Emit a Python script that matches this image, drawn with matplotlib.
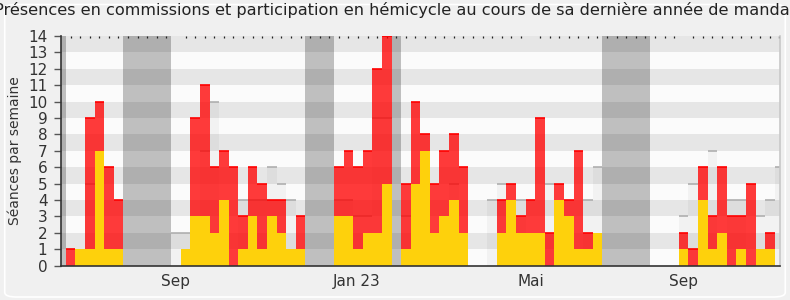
import matplotlib
matplotlib.use('Agg')
import matplotlib.pyplot as plt
from matplotlib.patches import FancyBboxPatch
from matplotlib.ticker import FixedLocator
import numpy as np

# semaines (index), valeurs
semaines = np.arange(75)

# participation en hémicycle (jaune)
hemicycle = [0, 1, 1, 7, 1, 1, 0, 0, 0, 0,
             0, 0, 1, 3, 3, 2, 4, 0, 1, 3,
             1, 3, 2, 1, 1, 0, 0, 0, 3, 3,
             1, 2, 2, 5, 0, 1, 5, 7, 2, 3,
             4, 2, 0, 0, 0, 2, 4, 2, 2, 2,
             0, 4, 3, 1, 1, 2, 0, 0, 0, 0,
             0, 0, 0, 0, 1, 0, 4, 1, 2, 0,
             1, 0, 1, 1, 0]

# présences en commission (rouge), empilées sur l'hémicycle
commission = [1, 0, 8, 3, 5, 3, 0, 0, 0, 0,
              0, 0, 0, 6, 8, 4, 3, 6, 2, 3,
              4, 1, 2, 0, 2, 0, 0, 0, 3, 4,
              5, 5, 10, 9, 0, 4, 5, 1, 3, 4,
              4, 4, 0, 0, 0, 2, 1, 1, 2, 7,
              2, 1, 1, 6, 1, 0, 0, 0, 0, 0,
              0, 0, 0, 0, 1, 1, 2, 2, 4, 3,
              2, 5, 0, 1, 0]

# médiane des députés (barres grises claires)
mediane = [0, 0, 5, 5, 0, 0, 0, 0, 0, 0,
           0, 2, 2, 0, 7, 10, 0, 0, 4, 4,
           4, 6, 5, 4, 0, 0, 0, 0, 4, 4,
           3, 3, 9, 9, 0, 3, 0, 0, 0, 0,
           5, 0, 0, 0, 4, 5, 0, 4, 0, 0,
           5, 0, 0, 0, 4, 6, 0, 0, 0, 0,
           0, 0, 0, 0, 3, 5, 0, 7, 0, 4,
           4, 0, 3, 4, 6]

# semaines de vacances parlementaires
vacances = [-1, 6, 7, 8, 9, 10, 25, 26, 27, 34, 56, 57, 58, 59, 60]

# étiquettes des mois
mois_pos = [11.5, 30.4, 48.5, 64.5]
mois_labels = ['Sep', 'Jan 23', 'Mai', 'Sep']

hemicycle = np.array(hemicycle)
commission = np.array(commission)
mediane = np.array(mediane)
total = hemicycle + commission
centres = semaines + 0.5

fig = plt.figure(figsize=(7.9, 3.0), dpi=100)
fig.patch.set_facecolor('#f0f0f0')
cadre = FancyBboxPatch((0.006, 0.01), 0.988, 0.975, boxstyle='round,pad=0,rounding_size=0.015',
                       transform=fig.transFigure, facecolor='none', edgecolor='white', lw=1.2)
fig.patches.append(cadre)

ax = fig.add_axes([0.0776, 0.1143, 0.9097, 0.7657])
ax.set_xlim(-0.47, 74.55)
ax.set_ylim(0, 14)

# bandes horizontales du fond
ax.set_facecolor('#fbfbfb')
for i in range(14):
    if i % 2:
        ax.axhspan(i, i + 1, color='#e6e6e6', lw=0, zorder=0)

# médiane
m = mediane > 0
ax.bar(centres[m], mediane[m], width=1, color=(0, 0, 0, 0.035), lw=0, zorder=1)
ax.hlines(mediane[m], semaines[m], semaines[m] + 1, color='#aaaaaa', lw=1.1, zorder=1.1)

# vacances
for v in vacances:
    ax.axvspan(v, v + 1, color='black', alpha=0.24, lw=0, zorder=1.5)

# barres hémicycle + commission
ax.bar(centres, hemicycle, width=1, color='#fed10c', lw=0, zorder=2)
ax.bar(centres, commission, bottom=hemicycle, width=1, color=(1, 0, 0, 0.77), lw=0, zorder=2)
r = commission > 0
ax.hlines(total[r], semaines[r], semaines[r] + 1, color='#ff0000', lw=1.2, zorder=3)

# axes
ax.set_yticks(range(15))
ax.tick_params(axis='y', length=5, width=1, color='#555555', pad=5, labelsize=11, labelcolor='#333333')
ax.set_xticks(mois_pos)
ax.set_xticklabels(mois_labels)
ax.tick_params(axis='x', which='major', length=0, pad=6, labelsize=11, labelcolor='#333333')
ax.xaxis.set_minor_locator(FixedLocator(centres))
ax.tick_params(axis='x', which='minor', bottom=False, top=True, direction='in', length=1.2, width=0.9, color='#222222')

ax.spines['top'].set_visible(False)
ax.spines['left'].set_color('#333333')
ax.spines['left'].set_linewidth(1.2)
ax.spines['bottom'].set_color('#333333')
ax.spines['bottom'].set_linewidth(1.2)
ax.spines['right'].set_color('#c8c8c8')
ax.spines['right'].set_linewidth(1.2)

ax.set_ylabel('Séances par semaine', fontsize=10, color='#333333', labelpad=4)
fig.text(0.5, 1 - 10 / 300, 'Présences en commissions et participation en hémicycle au cours de sa dernière année de mandat',
         ha='center', va='center', fontsize=11.6, color='#222222')

plt.savefig('out.png', dpi=100, facecolor=fig.get_facecolor())
plt.close()
